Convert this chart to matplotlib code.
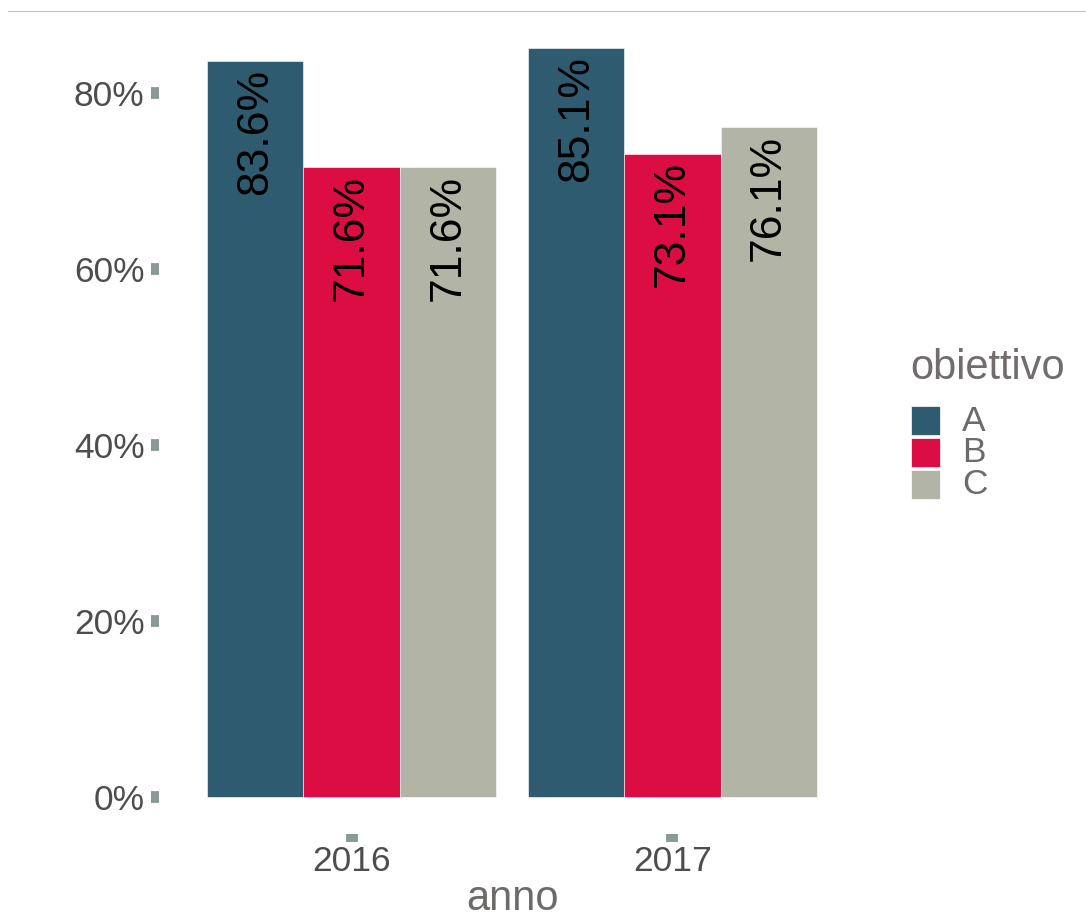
import matplotlib
matplotlib.use("Agg")
import matplotlib.pyplot as plt
from matplotlib.patches import Rectangle
from matplotlib.lines import Line2D
import numpy as np

years = ["2016", "2017"]
groups = ["A", "B", "C"]
values_A = [83.6, 85.1]
values_B = [71.6, 73.1]
values_C = [71.6, 76.1]
colors = ["#2f5b71", "#dc0d42", "#b2b5a6"]
y_ticks = [0, 20, 40, 60, 80]

W, H = 1086, 919
fig = plt.figure(figsize=(W / 100, H / 100), dpi=100)
plt.rcParams['font.family'] = ['Liberation Sans', 'DejaVu Sans']

px = lambda x: x / W
py = lambda y: 1 - y / H

ax = fig.add_axes([px(159), py(834.4), px(865) - px(159), py(10.7) - py(834.4)])
ax.set_facecolor("white")
for s in ax.spines.values():
    s.set_visible(False)

x = np.arange(len(years))
bw = 0.3
series = [values_A, values_B, values_C]
for i, (vals, c) in enumerate(zip(series, colors)):
    xs = x + (i - 1) * bw
    ax.bar(xs, vals, width=bw, color=c, edgecolor="white", linewidth=0.4)
    for xi, v in zip(xs, vals):
        ax.annotate(f"{v:.1f}%", (xi, v), xytext=(0, -5.5), textcoords="offset points",
                    rotation=90, ha="center", va="top", fontsize=32, color="black")

ax.set_xlim(-0.6, 1.6)
ax.set_ylim(-4.255, 89.355)
ax.set_yticks(y_ticks)
ax.set_yticklabels([f"{t}%" for t in y_ticks])
ax.set_xticks(x)
ax.set_xticklabels(years)
ax.tick_params(axis="both", length=5.5, width=8.5, color="#8a9a98", labelsize=25.5,
               labelcolor="#4d4d4d")
ax.tick_params(axis="y", pad=5)
ax.tick_params(axis="x", pad=2)
ax.set_xlabel("anno", fontsize=30, color="#6f6a6a", labelpad=1)

# top border line
fig.add_artist(Line2D([px(8), 1], [py(10.5), py(10.5)], color="#c4c4c4", linewidth=0.9))

# legend
fig.text(px(910), py(368), "obiettivo", fontsize=30, color="#726d6d", ha="left", va="center")
for i, (g, c) in enumerate(zip(groups, colors)):
    top = 406 + i * 32
    fig.add_artist(Rectangle((px(910.5), py(top + 29)), px(29), py(top) - py(top + 29),
                             facecolor=c, edgecolor="white", linewidth=0.5))
    fig.text(px(962), py(top + 15), g, fontsize=25.5, color="#6b6b6b", ha="left", va="center")

fig.savefig("out.png", dpi=100, facecolor="white")
